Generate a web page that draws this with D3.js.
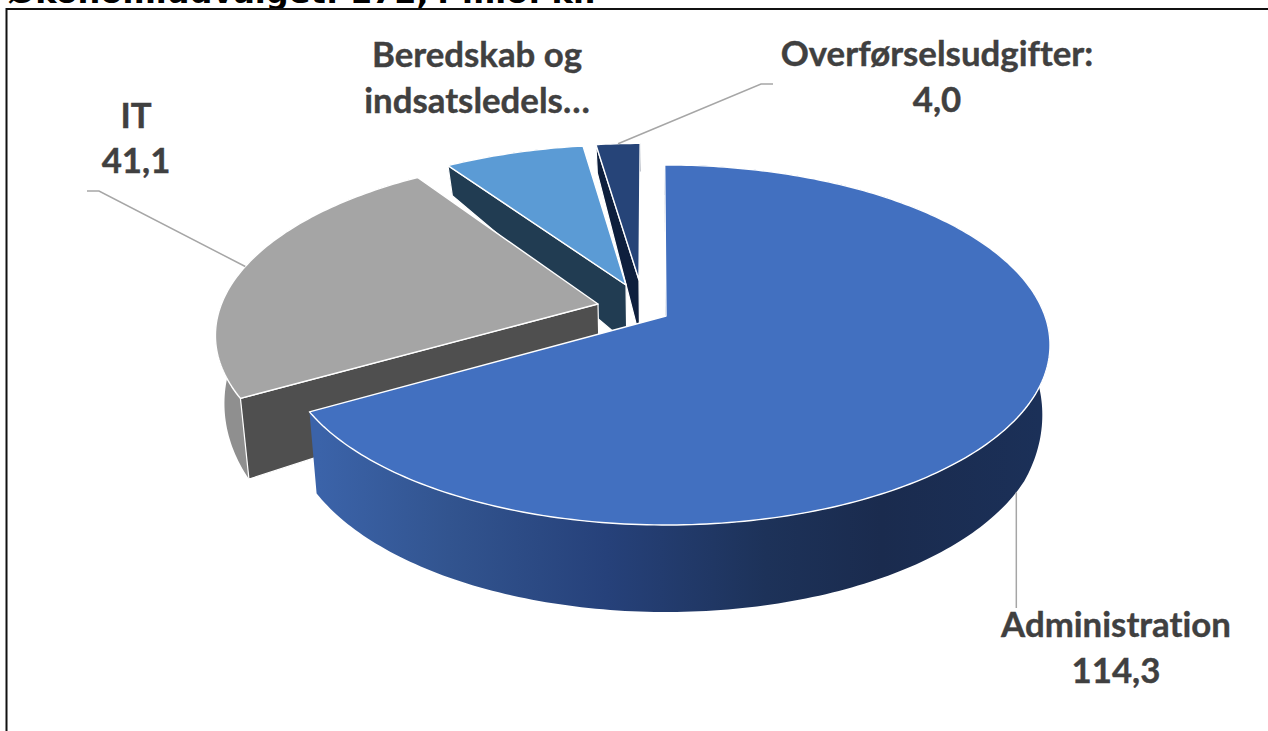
<!DOCTYPE html>
<html><head><meta charset="utf-8">
<style>html,body{margin:0;padding:0;background:#fff;overflow:hidden}text{font-variant-ligatures:none}</style>
<script src="https://cdn.jsdelivr.net/npm/d3@7/dist/d3.min.js"></script>
</head><body><svg id="c" width="1268" height="731"></svg>
<script>
const titleText = "Økonomiudvalget: 172,4 mio. kr.";
const categories = ["Administration", "IT", "Beredskab og indsatsledelse", "Overførselsudgifter"];
const values = [114.3, 41.1, 12.0, 4.0];
const labelLines = [["Administration","114,3"],["IT","41,1"],["Beredskab og","indsatsledels…"],["Overførselsudgifter:","4,0"]];

const W=1268,H=731;
const svg=d3.select("#c");
const cx=666,cy=345,rx=384,ry=180,boost=0.161;
const s1=Math.sqrt(1-boost*boost);
// perspective projection of the unit disc onto the ellipse of the tilted pie
const apex0=[cx,cy-ry*boost];
function proj(r,a){
  const u=r*Math.sin(a),v=r*Math.cos(a),d=1+boost*v;
  return [cx+rx*u*s1/d, cy-ry*(v+boost)/d];
}
const depth=d3.scaleLinear().domain([140,165,285,400,525]).range([28,30,58,81,87]);
const floorX=d3.scaleLinear().domain([cx-100,cx+100]).range([cx-98,cx+98]);
const bottom=p=>[floorX(p[0]),p[1]+depth(p[1])];

const pie=d3.pie().sort(null).startAngle(-0.004).endAngle(2*Math.PI-0.004);
const arcs=pie(values);
// explosion of each slice: shift of the tip, perspective shrink and skew
const explode=[
  {dx:0,dy:0,sx:1,sy:1,k:0},
  {dx:-68,dy:-12,sx:0.9935,sy:0.985,k:-0.035},
  {dx:-40,dy:-31,sx:0.98,sy:0.93,k:-0.034},
  {dx:-27,dy:-36,sx:0.925,sy:0.905,k:-0.0155}];
const place=(i,p)=>{const e=explode[i],X=p[0]-apex0[0],Y=p[1]-apex0[1];
  return [apex0[0]+e.dx+X*e.sx+Y*e.k, apex0[1]+e.dy+Y*e.sy];};
const topColor=["#4270c0","#a5a5a5","#5b9bd5","#264478"];
const radialColor=["#1c3059","#4f4f4f","#213c52","#0e1f3d"];
const outerColor=["url(#wall)","#8f8f8f","#213c52","#0e1f3d"];

const defs=svg.append("defs");
const g=defs.append("linearGradient").attr("id","wall").attr("gradientUnits","userSpaceOnUse")
  .attr("x1",319).attr("x2",1040).attr("y1",0).attr("y2",0);
[[0,"#3b63a9"],[0.18,"#32548f"],[0.4,"#26417a"],[0.62,"#1d3259"],[0.78,"#1a2b4e"],[1,"#1b3058"]]
  .forEach(d=>g.append("stop").attr("offset",d[0]).attr("stop-color",d[1]));

const line=d3.line();
function outerPts(i){
  const a=arcs[i],n=Math.max(8,Math.round((a.endAngle-a.startAngle)*60));
  return d3.range(n+1).map(k=>place(i,proj(1,a.startAngle+(a.endAngle-a.startAngle)*k/n)));
}
const chart=svg.append("g");
[3,2,1,0].forEach(i=>{
  const tip=place(i,apex0),pts=outerPts(i);
  const wall=a=>[...a,...a.slice().reverse().map(bottom)];
  // outer wall
  chart.append("path").attr("d",line(wall(pts))+"Z").attr("fill",outerColor[i]);
  // the radial wall at the slice's start edge faces the viewer
  chart.append("path").attr("d",line(wall([tip,pts[0]]))+"Z").attr("fill",radialColor[i])
    .attr("stroke",i===0?"none":"#fff").attr("stroke-width",1.2).attr("stroke-linejoin","round");
  // top face
  chart.append("path").attr("d",line([tip,...pts])+"Z").attr("fill",topColor[i])
    .attr("stroke","#fff").attr("stroke-width",1.4).attr("stroke-linejoin","round");
});

// leader lines start at each slice's mid-angle
const mid=i=>(arcs[i].startAngle+arcs[i].endAngle)/2;
const lead=svg.append("g").attr("fill","none").attr("stroke","#a6a6a6").attr("stroke-width",1.5);
const pAdmin=bottom(place(0,proj(1,mid(0))));
lead.append("path").attr("d",line([pAdmin,[pAdmin[0],608]]));
const pIT=place(1,proj(1,mid(1)));
lead.append("path").attr("d",line([pIT,[99,191],[87,191]]));
const pOv=place(3,proj(1,mid(3)));
lead.append("path").attr("d",line([pOv,[761,84],[773,84]]));

// labels
const labelPos=[[1116,637],[136,128],[477,67],[937,66]];
const lineGap=[46,45,46,46];
const labels=svg.append("g").attr("font-family","Lato, 'Open Sans', sans-serif").attr("font-weight",700)
  .attr("font-size",34.8).attr("fill","#404040").attr("stroke","#404040").attr("stroke-width",0.4).attr("text-anchor","middle");
labelLines.forEach((ls,i)=>ls.forEach((t,k)=>{
  labels.append("text").attr("x",labelPos[i][0]).attr("y",labelPos[i][1]+k*lineGap[i]).text(t);
}));

// frame and cropped title
svg.append("text").attr("x",8).attr("y",3).attr("font-family","'DejaVu Sans'").attr("font-weight",700)
  .attr("font-size",32).attr("fill","#000").text(titleText);
svg.append("path").attr("d",`M${W},9H6.5V${H}`).attr("fill","none").attr("stroke","#111").attr("stroke-width",2);
</script></body></html>
